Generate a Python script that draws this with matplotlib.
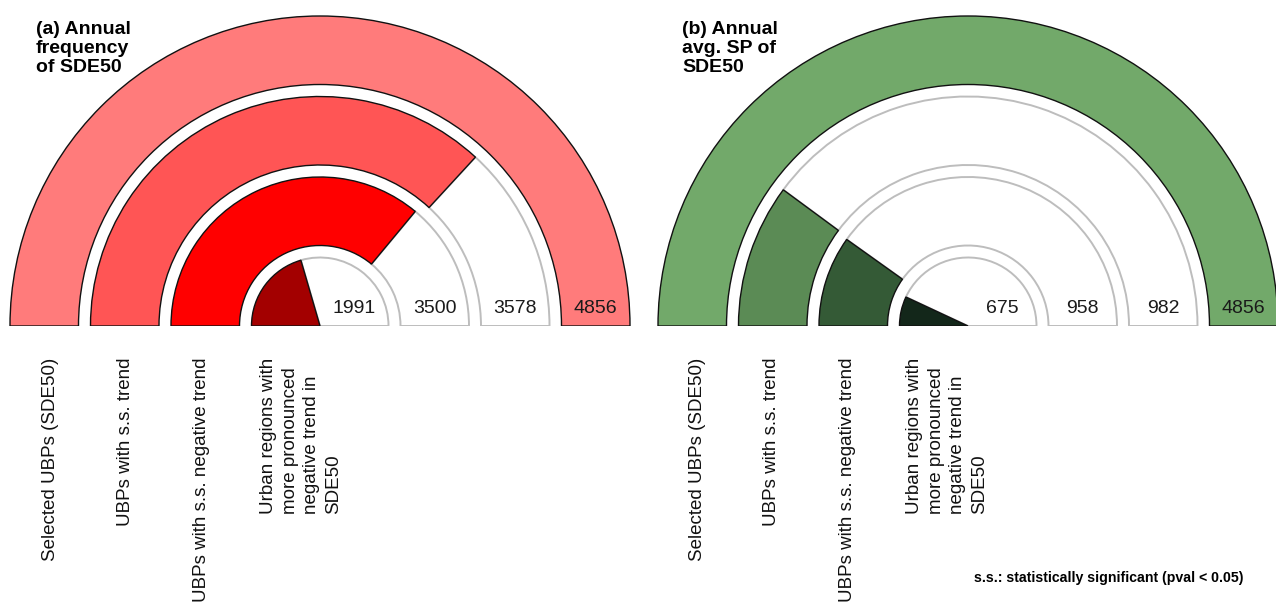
import matplotlib
matplotlib.use("Agg")
import matplotlib.pyplot as plt
from matplotlib.patches import Wedge, Rectangle

plt.rcParams['font.family'] = ['Liberation Sans', 'DejaVu Sans']

categories = [
    "Selected UBPs (SDE50)",
    "UBPs with s.s. trend",
    "UBPs with s.s. negative trend",
    "Urban regions with\nmore pronounced\nnegative trend in\nSDE50",
]
freq_values = [4856, 3578, 3500, 1991]
sp_values = [4856, 982, 958, 675]
total = 4856

freq_colors = ["#FF7B7B", "#FF5555", "#FF0000", "#A30000"]
sp_colors = ["#72A96A", "#5B8B55", "#345A36", "#13271A"]

titles = ["(a) Annual\nfrequency\nof SDE50", "(b) Annual\navg. SP of\nSDE50"]
note = "s.s.: statistically significant (pval < 0.05)"

W, H = 1276, 603
fig = plt.figure(figsize=(W / 100, H / 100), dpi=100)
ax = fig.add_axes([0, 0, 1, 1])
ax.set_xlim(0, W)
ax.set_ylim(0, H)
ax.axis("off")

base = H - 326
outer_r = [310, 229.5, 149, 68.5]
ring_w = 68.5
clip = Rectangle((0, base), W, H, transform=ax.transData)


def gauge(cx, values, colors, title, label_x):
    for r, v, c in zip(outer_r, values, colors):
        frac = v / total
        split = 180 - frac * 180
        w = min(ring_w, r)
        if frac < 1:
            empty = Wedge((cx, base), r, 0, split, width=w,
                          facecolor="white", edgecolor="#BDBDBD", lw=1.4)
            ax.add_patch(empty)
            empty.set_clip_path(clip)
        full = Wedge((cx, base), r, split, 180, width=w,
                     facecolor=c, edgecolor="#111111", lw=1.0)
        ax.add_patch(full)
        full.set_clip_path(clip)
        ax.text(cx + r - w / 2, base + 13, f"{v}", ha="center", va="baseline",
                fontsize=14, color="#1a1a1a")

    ax.text(label_x - 15, H - 21, title, ha="left", va="top",
            fontsize=14, fontweight="bold", linespacing=1.15)

    for xo, cat in zip([51, 126, 202, 301], categories):
        ax.text(label_x + xo - 51, H - 358, cat, rotation=90, ha="center", va="top",
                multialignment="left", fontsize=13.5, linespacing=1.35,
                color="#111111")


gauge(320, freq_values, freq_colors, titles[0], 51)
gauge(968, sp_values, sp_colors, titles[1], 697)

ax.text(1243, H - 582, note, ha="right", va="baseline",
        fontsize=10.2, fontweight="bold")

fig.savefig("out.png", dpi=100)
